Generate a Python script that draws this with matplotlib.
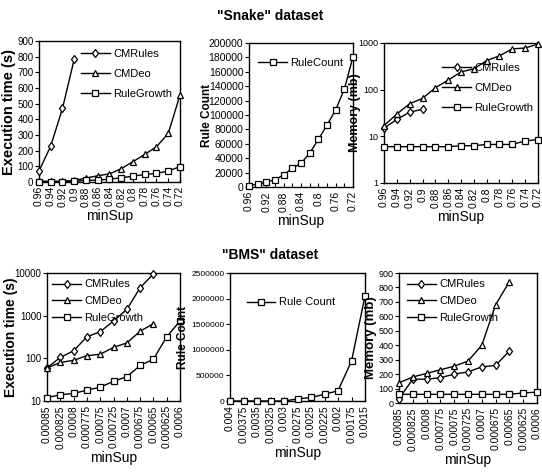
import matplotlib
matplotlib.use("Agg")
import matplotlib.pyplot as plt
import numpy as np

plt.rcParams['font.family'] = ['Liberation Sans', 'DejaVu Sans']

# Snake dataset
snake_sup = ["0.96", "0.94", "0.92", "0.9", "0.88", "0.86", "0.84", "0.82", "0.8", "0.78", "0.76", "0.74", "0.72"]
snake_time_cmrules = [70, 230, 470, 785]
snake_time_cmdeo = [5, 5, 5, 10, 25, 40, 52, 85, 130, 176, 225, 310, 555]
snake_time_rulegrowth = [0, 2, 3, 5, 10, 12, 18, 27, 37, 48, 55, 70, 98]
snake_rulecount = [2000, 4000, 7000, 10000, 17000, 26000, 33000, 47000, 66000, 86000, 107000, 136000, 181000]
snake_mem_cmrules = [15, 23, 33, 38]
snake_mem_cmdeo = [17, 30, 50, 65, 110, 160, 240, 280, 420, 530, 750, 780, 950]
snake_mem_rulegrowth = [6, 6, 6, 6, 6, 6, 6.3, 6.3, 6.7, 6.7, 6.7, 8, 8.5]

# BMS dataset
bms_sup = ["0.00085", "0.000825", "0.0008", "0.000775", "0.00075", "0.000725", "0.0007", "0.000675", "0.00065", "0.000625", "0.0006"]
bms_time_cmrules = [60, 105, 150, 320, 420, 750, 1400, 4500, 9500]
bms_time_cmdeo = [60, 80, 90, 115, 125, 180, 230, 430, 650]
bms_time_rulegrowth = [12, 14, 15, 18, 21, 29, 37, 68, 95, 320, 750]
bms_count_sup = ["0.004", "0.00375", "0.0035", "0.00325", "0.003", "0.00275", "0.0025", "0.00225", "0.002", "0.00175", "0.0015"]
bms_rulecount = [0, 0, 0, 0, 0, 40000, 70000, 130000, 200000, 780000, 2050000]
bms_mem_cmrules = [30, 165, 165, 175, 200, 215, 250, 260, 360]
bms_mem_cmdeo = [140, 180, 205, 230, 255, 290, 400, 680, 840]
bms_mem_rulegrowth = [60, 60, 60, 60, 60, 60, 60, 60, 60, 70, 75]

W, H = 542, 473
fig = plt.figure(figsize=(W / 100, H / 100), dpi=100)
tickfont = ['Liberation Sans Narrow', 'Liberation Sans']


def box(l, t, r, b):
    return fig.add_axes([l / W, 1 - b / H, (r - l) / W, (b - t) / H])


def line(ax, vals, marker, label, ms=5):
    ax.plot(range(len(vals)), vals, color="black", lw=1, marker=marker, ms=ms,
            mfc="white", mec="black", mew=0.9, label=label, clip_on=False, zorder=3)


def style(ax, labels, ylabel, yticks, lab_x, lab_size, tsize=7.5, every=1):
    n = len(labels)
    ax.set_xlim(0, n - 1)
    ax.set_xticks(range(n))
    ax.set_xticklabels([s if i % every == 0 else "" for i, s in enumerate(labels)],
                       rotation=90, fontsize=7.5, family=tickfont)
    ax.set_yticks(yticks)
    ax.set_yticklabels([str(v) for v in yticks], fontsize=tsize, family=tickfont)
    ax.minorticks_off()
    ax.tick_params(axis="x", direction="in", length=3, pad=3)
    ax.tick_params(axis="y", direction="out", length=3, pad=1)
    ax.set_xlabel("minSup", fontsize=10, labelpad=2)
    ax.set_ylabel(ylabel, fontsize=lab_size, fontweight="bold")
    ax.yaxis.set_label_coords(lab_x, 0.5)
    for s in ax.spines.values():
        s.set_linewidth(1)


def legend(ax, spacing=0.9, **kw):
    ax.legend(frameon=False, handlelength=2.6, labelspacing=spacing,
              handletextpad=0.3, borderaxespad=0.3, prop={'family': tickfont, 'size': 8}, **kw)


# Top left
ax = box(39, 41, 180, 182)
line(ax, snake_time_cmrules, "d", "CMRules", 4.5)
line(ax, snake_time_cmdeo, "^", "CMDeo")
line(ax, snake_time_rulegrowth, "s", "RuleGrowth")
ax.set_ylim(0, 900)
style(ax, snake_sup, "Execution time (s)", list(range(0, 901, 100)), -0.165, 10.5, tsize=7)
legend(ax, loc="upper right")

# Top middle
ax = box(249, 43, 353, 187)
line(ax, snake_rulecount, "s", "RuleCount")
ax.set_ylim(0, 200000)
style(ax, snake_sup, "Rule Count", list(range(0, 200001, 20000)), -0.35, 8.5, every=2)
legend(ax, loc="upper center", bbox_to_anchor=(0.5, 0.95))

# Top right
ax = box(384, 43, 538, 183)
line(ax, snake_mem_cmrules, "d", "CMRules", 4.5)
line(ax, snake_mem_cmdeo, "^", "CMDeo")
line(ax, snake_mem_rulegrowth, "s", "RuleGrowth")
ax.set_yscale("log")
ax.set_ylim(1, 1000)
style(ax, snake_sup, "Memory (mb)", [1, 10, 100, 1000], -0.15, 9, tsize=6.5)
legend(ax, loc="center right", bbox_to_anchor=(1.02, 0.68))

# Bottom left
ax = box(47, 273, 180, 401)
line(ax, bms_time_cmrules, "d", "CMRules", 4.5)
line(ax, bms_time_cmdeo, "^", "CMDeo")
line(ax, bms_time_rulegrowth, "s", "RuleGrowth")
ax.set_yscale("log")
ax.set_ylim(10, 10000)
style(ax, bms_sup, "Execution time (s)", [10, 100, 1000, 10000], -0.215, 10, tsize=7)
legend(ax, spacing=0.6, loc="upper left", bbox_to_anchor=(-0.02, 1.01))

# Bottom middle
ax = box(230, 273, 365, 401)
line(ax, bms_rulecount, "s", "Rule Count")
ax.set_ylim(0, 2500000)
style(ax, bms_count_sup, "Rule Count", list(range(0, 2500001, 500000)), -0.30, 8.5, tsize=6)
legend(ax, loc="upper center", bbox_to_anchor=(0.45, 0.87))

# Bottom right
ax = box(399, 273, 537, 403)
line(ax, bms_mem_cmrules, "d", "CMRules", 4.5)
line(ax, bms_mem_cmdeo, "^", "CMDeo")
line(ax, bms_mem_rulegrowth, "s", "RuleGrowth")
ax.set_ylim(0, 900)
style(ax, bms_sup, "Memory (mb)", list(range(0, 901, 100)), -0.16, 9.5, tsize=6.5)
legend(ax, spacing=0.6, loc="upper left", bbox_to_anchor=(0.0, 1.01))

fig.text(270 / W, 1 - 16 / H, '"Snake" dataset', ha="center", va="center",
         fontsize=10, fontweight="bold")
fig.text(270 / W, 1 - 255 / H, '"BMS" dataset', ha="center", va="center",
         fontsize=10, fontweight="bold")

fig.savefig("out.png", dpi=100)
